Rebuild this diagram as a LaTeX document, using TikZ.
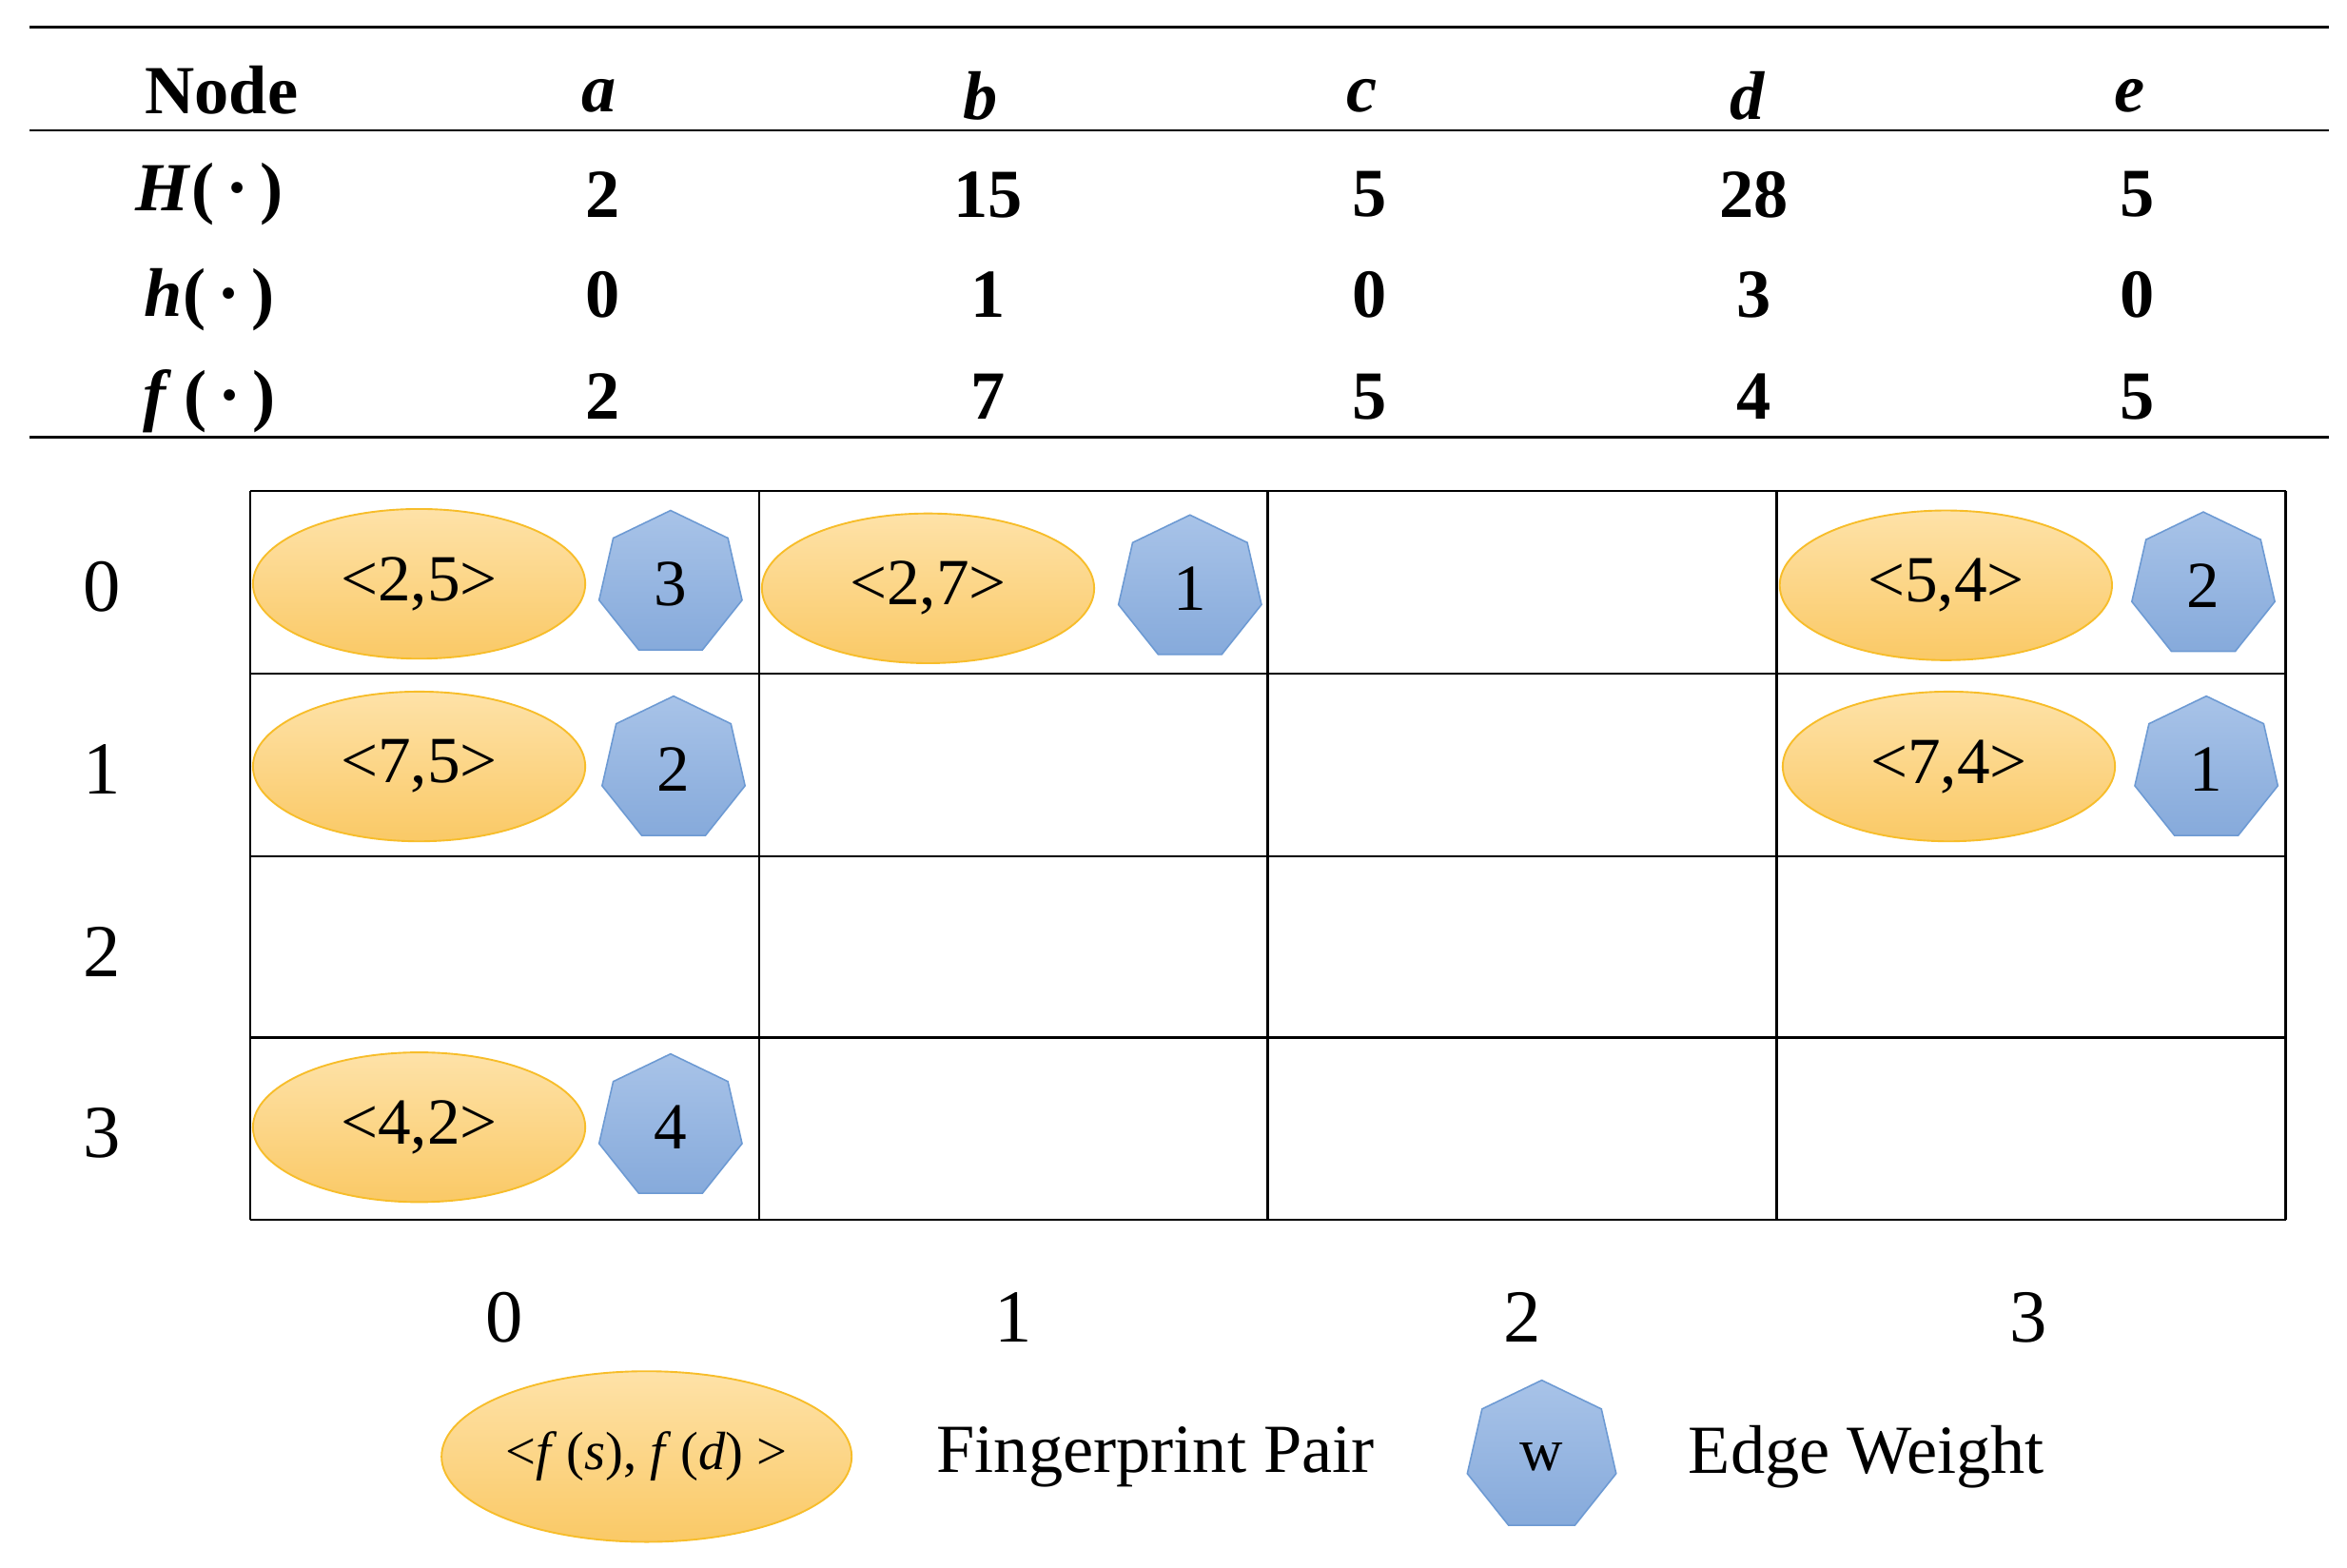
\documentclass[tikz,border=0pt]{standalone}
\usepackage{fontspec}
\setmainfont{Liberation Serif}
\usetikzlibrary{shapes.geometric}
\definecolor{ob}{HTML}{F7BD2A}
\definecolor{ot}{HTML}{FEE2A8}
\definecolor{obot}{HTML}{FAC966}
\definecolor{bb}{HTML}{6D9AD3}
\definecolor{bt}{HTML}{A8C3E8}
\definecolor{bbot}{HTML}{86AADB}
\begin{document}
\begin{tikzpicture}[x=1pt,y=-1pt,
 fp/.style={ellipse,draw=ob,line width=1.2pt,top color=ot,bottom color=obot,minimum width=222pt,minimum height=100pt,inner sep=0pt,font=\fontsize{44}{48}\selectfont},
 ew/.style={regular polygon,regular polygon sides=7,draw=bb,line width=1pt,top color=bt,bottom color=bbot,minimum size=98pt,inner sep=0pt,font=\fontsize{44}{48}\selectfont},
 hd/.style={font=\fontsize{46}{50}\selectfont\bfseries},
 lb/.style={font=\fontsize{50}{54}\selectfont}]
\useasboundingbox (0,0) rectangle (1568,1047);
\draw[line width=1.5pt] (20,18) coordinate(t1) -- (1556,18);
\draw[line width=1.5pt] (20,87) -- (1556,87);
\draw[line width=1.5pt] (20,292) -- (1556,292);
\node[hd] (hn) at (148,60) {Node};
\foreach \n/\x/\l in {a/400/a,b/655/b,c/910/c,d/1167/d,e/1423/e}
  \node[hd,font=\fontsize{46}{50}\selectfont\bfseries\itshape] (h\n) at (\x,64) {\l};
\node[hd] (rH) at (140,130) {\textit{H}(\,·\,)};
\node[hd] (rh) at (140,200) {\textit{h}(\,·\,)};
\node[hd] (rf) at (140,268) {\textit{f}\,(\,·\,)};
\foreach \x/\p/\q/\r in {403/2/0/2,660/15/1/7,915/5/0/5,1172/28/3/4,1428/5/0/5}{
  \node[hd] at (\x,130) {\p};
  \node[hd] at (\x,197) {\q};
  \node[hd] at (\x,265) {\r};}
\foreach \y in {328,450,572,693,815} \draw[line width=1.5pt] (167,\y) -- (1527,\y);
\foreach \x in {167,507,847,1187,1527} \draw[line width=1.5pt] (\x,328) -- (\x,815);
\foreach \i/\y in {0/392,1/514,2/636,3/757} \node[lb] (r\i) at (68,\y) {\i};
\foreach \i/\x in {0/337,1/677,2/1017,3/1355} \node[lb] (c\i) at (\x,880) {\i};
\node[fp] (e1) at (280,390) {<2,5>}; \node[ew] (w1) at (448,390) {3};
\node[fp] (e2) at (620,393) {<2,7>}; \node[ew] (w2) at (795,393) {1};
\node[fp] (e3) at (1300,391) {<5,4>}; \node[ew] (w3) at (1472,391) {2};
\node[fp] (e4) at (280,512) {<7,5>}; \node[ew] (w4) at (450,514) {2};
\node[fp] (e5) at (1302,512) {<7,4>}; \node[ew] (w5) at (1474,514) {1};
\node[fp] (e6) at (280,753) {<4,2>}; \node[ew] (w6) at (448,753) {4};
\node[fp,minimum width=274pt,minimum height=114pt,font=\fontsize{36}{40}\selectfont] (le) at (432,973) {};
\node[font=\fontsize{36}{40}\selectfont] (let) at (le.center) {<\textit{f}\,(\textit{s}), \textit{f}\,(\textit{d}) >};
\node[lb,font=\fontsize{46}{50}\selectfont] (lt1) at (772,973) {Fingerprint Pair};
\node[ew,minimum size=102pt,font=\fontsize{40}{44}\selectfont] (lw) at (1030,973) {w};
\node[lb,font=\fontsize{46}{50}\selectfont] (lt2) at (1247,973) {Edge Weight};
\end{tikzpicture}
\end{document}
